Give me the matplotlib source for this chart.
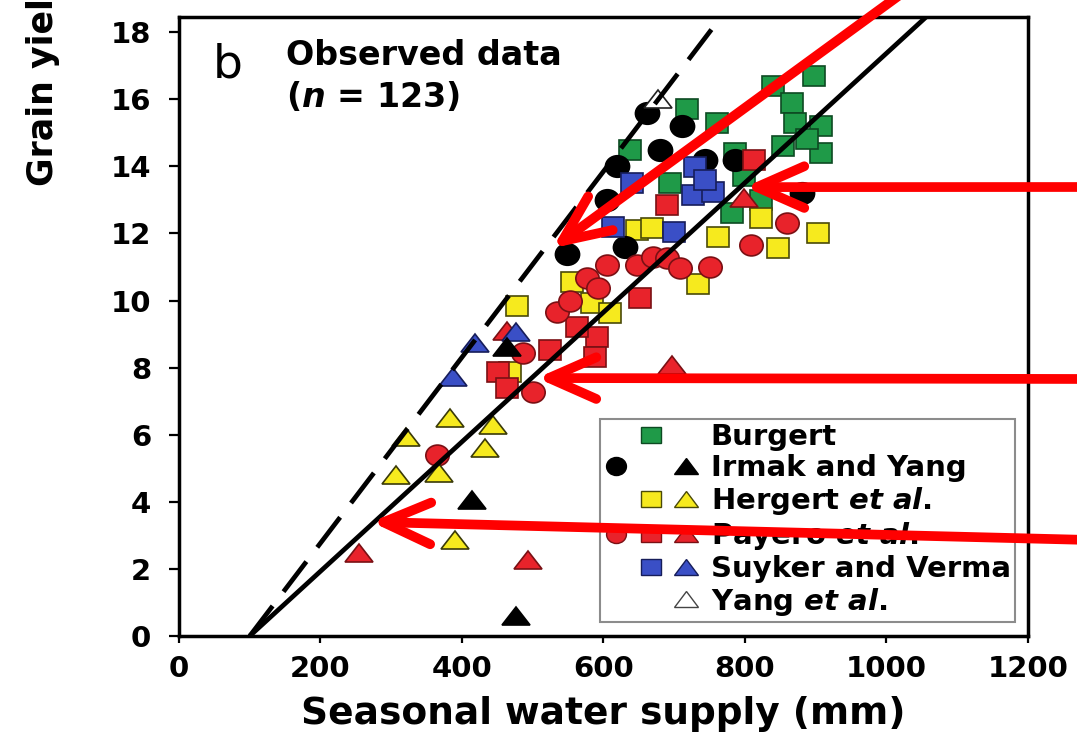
import matplotlib
matplotlib.use('Agg')
import matplotlib.pyplot as plt
from matplotlib.markers import MarkerStyle
from matplotlib.transforms import Affine2D
from matplotlib.lines import Line2D
from matplotlib.legend_handler import HandlerTuple
from matplotlib.patches import ArrowStyle

plt.rcParams['font.family'] = ['DejaVu Sans']
plt.rcParams['mathtext.fontset'] = 'custom'
plt.rcParams['mathtext.it'] = 'DejaVu Sans:bold:italic'
plt.rcParams['mathtext.rm'] = 'DejaVu Sans:bold'
plt.rcParams['mathtext.bf'] = 'DejaVu Sans:bold'

# ---------------- data (seasonal water supply, mm ; grain yield, Mg/ha) ----------------
burgert_x = [897, 839, 867, 871, 907, 907, 854, 888, 718, 761, 638, 694, 786, 798, 782, 822]
burgert_y = [16.7, 16.4, 15.9, 15.3, 15.2, 14.4, 14.6, 14.8, 15.7, 15.3, 14.5, 13.5, 14.4, 13.7, 12.6, 13.0]

irmak_circ_x = [662, 711, 619, 680, 744, 786, 605, 881, 630, 548]
irmak_circ_y = [15.6, 15.2, 14.0, 14.5, 14.2, 14.2, 13.0, 13.2, 11.6, 11.4]
irmak_tri_x = [477, 414, 463]
irmak_tri_y = [0.6, 4.05, 8.6]

hergert_sq_x = [478, 555, 584, 609, 648, 669, 734, 762, 822, 846, 903, 468]
hergert_sq_y = [9.84, 10.55, 9.93, 9.63, 12.1, 12.16, 10.49, 11.89, 12.46, 11.56, 12.01, 7.87]
hergert_tri_x = [321, 383, 307, 368, 444, 432, 390]
hergert_tri_y = [5.93, 6.5, 4.8, 4.85, 6.3, 5.6, 2.86]

payero_circ_x = [534, 553, 577, 592, 605, 648, 670, 690, 708, 751, 808, 860, 364, 486, 500]
payero_circ_y = [9.66, 10.0, 10.67, 10.37, 11.06, 11.06, 11.3, 11.27, 10.97, 11.0, 11.65, 12.3, 5.4, 8.44, 7.27]
payero_sq_x = [451, 463, 524, 591, 588, 652, 563, 690, 813]
payero_sq_y = [7.87, 7.39, 8.52, 8.91, 8.32, 10.07, 9.21, 12.85, 14.19]
payero_tri_x = [255, 493, 697, 798, 463]
payero_tri_y = [2.47, 2.27, 8.07, 13.05, 9.1]

suyker_sq_x = [640, 730, 727, 755, 614, 699, 744]
suyker_sq_y = [13.5, 13.98, 13.14, 13.23, 12.19, 12.04, 13.6]
suyker_tri_x = [418, 387, 477]
suyker_tri_y = [8.73, 7.72, 9.07]

yang_tri_x = [677]
yang_tri_y = [16.0]

# boundary (dashed) and mean (solid) water-productivity lines
line_x = [100, 1100]
boundary_y = [0, 27.7]
mean_y = [0, 19.3]

x_ticks = [0, 200, 400, 600, 800, 1000, 1200]
y_ticks = [0, 2, 4, 6, 8, 10, 12, 14, 16, 18]

legend_labels = ['Burgert', 'Irmak and Yang', r'Hergert $et\ al.$',
                 r'Payero $et\ al.$', 'Suyker and Verma', r'Yang $et\ al.$']

# red arrows: tips in data coords, tails in figure pixels
arrow_tips = [(528, 11.56), (800, 13.38), (506, 7.69), (272, 3.40)]
arrow_tails = [(960, 792), (1090, 556), (1090, 364), (1090, 203)]

# ---------------- styles ----------------
GREEN, GREEN_E = '#1f9a48', '#0d4a22'
YELLOW, YELLOW_E = '#f6ea1e', '#4a4a08'
RED, RED_E = '#e8232b', '#7a1014'
BLUE, BLUE_E = '#3a4fc6', '#161d5a'
BLACK = '#000000'

SQ = MarkerStyle('s', transform=Affine2D().scale(1.1, 1.0))
CI = MarkerStyle('o', transform=Affine2D().scale(1.12, 1.0))
TR = MarkerStyle('^', transform=Affine2D().scale(1.45, 1.0))

fig = plt.figure(figsize=(10.77, 7.43), dpi=100)
ax = fig.add_axes([0.1662, 0.1440, 0.7883, 0.8331])


def pts(x, y, marker, ms, fc, ec, z, mew=1.2):
    ax.plot(x, y, linestyle='none', marker=marker, markersize=ms,
            markerfacecolor=fc, markeredgecolor=ec, markeredgewidth=mew, zorder=z)


pts(burgert_x, burgert_y, SQ, 14.5, GREEN, GREEN_E, 2)
pts(hergert_sq_x, hergert_sq_y, SQ, 14.5, YELLOW, YELLOW_E, 3)
pts(irmak_circ_x, irmak_circ_y, CI, 15.5, BLACK, BLACK, 3)
pts(suyker_sq_x, suyker_sq_y, SQ, 14.5, BLUE, BLUE_E, 4)
pts(payero_sq_x, payero_sq_y, SQ, 14.5, RED, RED_E, 4)
pts(payero_circ_x, payero_circ_y, CI, 15, RED, RED_E, 4)
pts(hergert_tri_x, hergert_tri_y, TR, 13.5, YELLOW, '#3a3a08', 5)
pts(payero_tri_x, payero_tri_y, TR, 13.5, RED, RED_E, 5)
pts(suyker_tri_x, suyker_tri_y, TR, 13.5, BLUE, BLUE_E, 5)
pts(irmak_tri_x, irmak_tri_y, TR, 13.5, BLACK, BLACK, 5)
pts(yang_tri_x, yang_tri_y, TR, 13.5, 'white', '#222222', 5)

ax.plot(line_x, boundary_y, color='black', lw=3.4, dashes=(8, 3.8), zorder=6,
        solid_capstyle='butt', dash_capstyle='butt')
ax.plot(line_x, mean_y, color='black', lw=3.4, zorder=6, solid_capstyle='butt')

ax.set_xlim(0, 1200)
ax.set_ylim(0, 18.45)
ax.set_xticks(x_ticks)
ax.set_yticks(y_ticks)
for s in ax.spines.values():
    s.set_linewidth(2.5)
ax.tick_params(axis='x', direction='out', length=5, width=1.6, pad=9, labelsize=21)
ax.tick_params(axis='y', direction='out', length=7, width=1.6, pad=13, labelsize=21)
for lab in ax.get_xticklabels() + ax.get_yticklabels():
    lab.set_fontweight('bold')

ax.set_xlabel('Seasonal water supply (mm)', fontsize=27, fontweight='bold', labelpad=9)
fig.text(43 / 1077, (743 - 186) / 743, 'Grain yield (Mg ha⁻¹)', rotation=90,
         ha='center', va='bottom', fontsize=25, fontweight='bold')

ax.text(0.040, 0.903, 'b', transform=ax.transAxes, fontsize=34, ha='left', va='baseline')
ax.text(0.126, 0.9225, 'Observed data', transform=ax.transAxes, fontsize=24,
        fontweight='bold', ha='left', va='baseline')
ax.text(0.126, 0.8546, r'($n$ = 123)', transform=ax.transAxes, fontsize=24,
        fontweight='bold', ha='left', va='baseline')

# ---------------- legend ----------------
def h(marker=None, fc='none', ec='none', ms=12):
    if marker is None:
        return Line2D([], [], linestyle='none', marker='None')
    return Line2D([], [], linestyle='none', marker=marker, markersize=ms,
                  markerfacecolor=fc, markeredgecolor=ec, markeredgewidth=1.0)

LSQ = MarkerStyle('s', transform=Affine2D().scale(1.3, 1.0))
LCI = MarkerStyle('o', transform=Affine2D().scale(1.1, 1.0))
LTR = MarkerStyle('^', transform=Affine2D().scale(1.6, 1.0))
handles = [
    (h(), h(LSQ, GREEN, GREEN_E, 11), h()),
    (h(LCI, BLACK, BLACK, 13), h(), h(LTR, BLACK, BLACK, 11)),
    (h(), h(LSQ, YELLOW, YELLOW_E, 11), h(LTR, YELLOW, YELLOW_E, 11)),
    (h(LCI, RED, RED_E, 13), h(LSQ, RED, RED_E, 11), h(LTR, RED, RED_E, 11)),
    (h(), h(LSQ, BLUE, BLUE_E, 11), h(LTR, BLUE, BLUE_E, 11)),
    (h(), h(), h(LTR, 'white', '#444444', 11)),
]
leg = ax.legend(handles, legend_labels,
                handler_map={tuple: HandlerTuple(ndivide=None, pad=0.42)},
                loc='lower right', bbox_to_anchor=(0.9847, 0.0226), borderaxespad=0,
                prop={'size': 21, 'weight': 'bold'}, handlelength=3.2,
                handletextpad=0.45, borderpad=0.15, labelspacing=0.1,
                frameon=True, fancybox=False, framealpha=1, edgecolor='#8c8c8c')
leg.get_frame().set_linewidth(1.5)
leg.set_zorder(8)

# ---------------- red arrows ----------------
style = ArrowStyle('->', head_length=3.4, head_width=1.5)
for tip, tail in zip(arrow_tips, arrow_tails):
    ax.annotate('', xy=tip, xycoords='data', xytext=tail, textcoords='figure pixels',
                arrowprops=dict(arrowstyle=style, color='#ff0000', lw=7, shrinkA=0,
                                shrinkB=0, mutation_scale=10, capstyle='round',
                                joinstyle='round'),
                annotation_clip=False, zorder=20)

fig.savefig('out.png', dpi=100)
